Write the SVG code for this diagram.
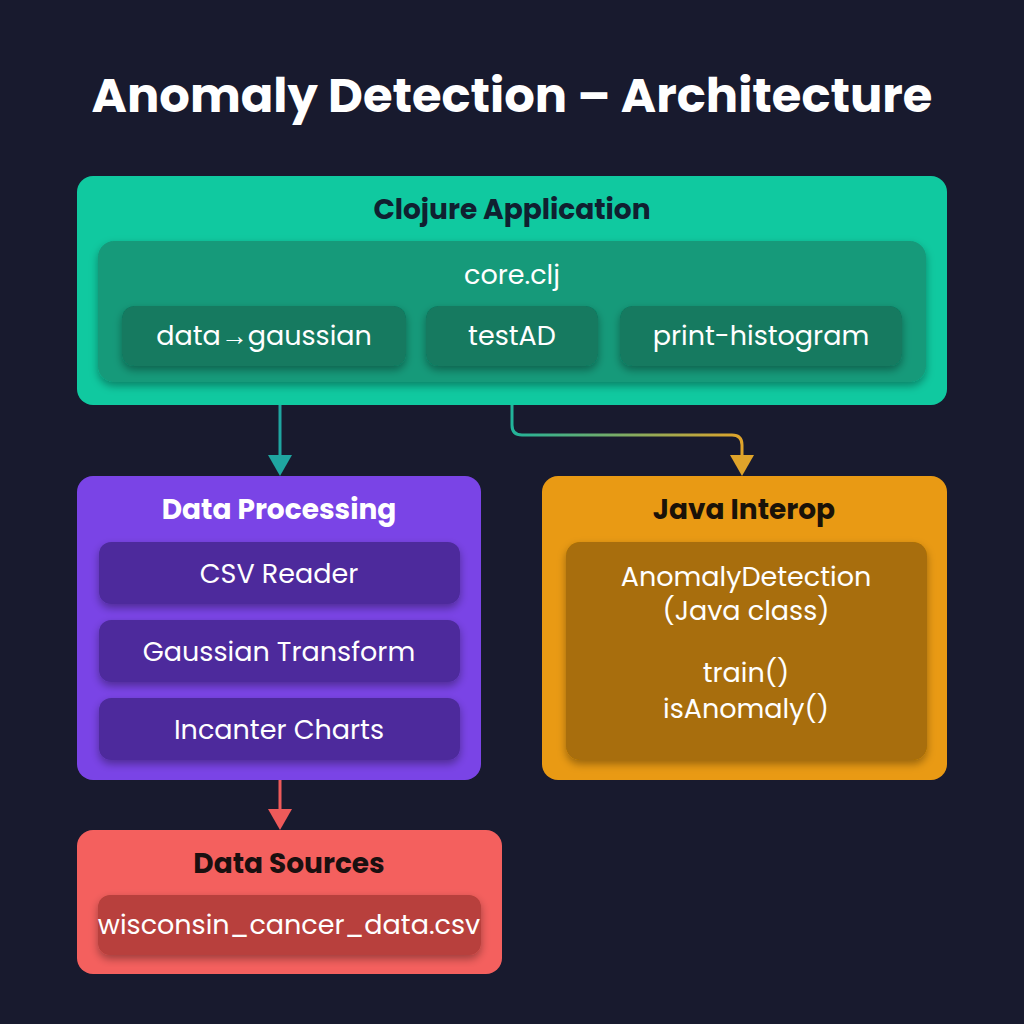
<svg xmlns="http://www.w3.org/2000/svg" width="1024" height="1024" viewBox="0 0 1024 1024">
<defs>
<style>
.t{font-family:Poppins,"Noto Sans","Liberation Sans",sans-serif}
.h{font-weight:700;font-size:28px;text-anchor:middle}
.l{font-size:27px;text-anchor:middle;fill:#fff}
</style>
<linearGradient id="g1" x1="0" y1="0" x2="1" y2="0"><stop offset="0" stop-color="#22b39a"/><stop offset="1" stop-color="#e0a42a"/></linearGradient>
<linearGradient id="g2" x1="0" y1="0" x2="1" y2="0"><stop offset="0" stop-color="#d98a6a"/><stop offset="1" stop-color="#e0a030"/></linearGradient>
<filter id="sh" x="-10%" y="-10%" width="120%" height="130%"><feDropShadow dx="0" dy="4" stdDeviation="4" flood-color="#000" flood-opacity="0.35"/></filter>
</defs>
<rect width="1024" height="1024" fill="#181a2e"/>
<text x="512" y="112" class="t" font-size="48" font-weight="700" fill="#fff" text-anchor="middle">Anomaly Detection – Architecture</text>

<g id="connectors" fill="none" stroke-width="3">
<path d="M280 404 V462" stroke="#1fa5a0"/>
<polygon points="268,455 292,455 280,476" fill="#1fa5a0" stroke="none"/>
<path d="M512 380 V425 Q512 435 522 435 H732 Q742 435 742 445 V462" stroke="url(#g1)"/>
<polygon points="730,455 754,455 742,476" fill="#e0a42a" stroke="none"/>
<path d="M460 651 H552" stroke="url(#g2)"/>
<polygon points="550,642 566,651 550,660" fill="#e0a030" stroke="none"/>
<path d="M280 760 V816" stroke="#ee5a5a"/>
<polygon points="268,809 292,809 280,830" fill="#ee5a5a" stroke="none"/>
</g>

<g id="clojure">
<rect x="77" y="176" width="870" height="229" rx="16" fill="#10c9a0"/>
<text x="512" y="219" class="t h" fill="#102030">Clojure Application</text>
<rect x="98" y="241" width="828" height="141" rx="16" fill="#159a7a" filter="url(#sh)"/>
<text x="512" y="284" class="t l">core.clj</text>
<rect x="122" y="306" width="284" height="60" rx="12" fill="#127a60" filter="url(#sh)"/>
<text x="264" y="345" class="t l">data→gaussian</text>
<rect x="426" y="306" width="172" height="60" rx="12" fill="#127a60" filter="url(#sh)"/>
<text x="512" y="345" class="t l">testAD</text>
<rect x="620" y="306" width="282" height="60" rx="12" fill="#127a60" filter="url(#sh)"/>
<text x="761" y="345" class="t l">print-histogram</text>
</g>

<g id="data-processing">
<rect x="77" y="476" width="404" height="304" rx="16" fill="#7a44e6"/>
<text x="279" y="519" class="t h" fill="#fff">Data Processing</text>
<rect x="99" y="542" width="361" height="62" rx="12" fill="#4e2c9c" filter="url(#sh)"/>
<text x="279" y="583" class="t l">CSV Reader</text>
<rect x="99" y="620" width="361" height="62" rx="12" fill="#4e2c9c" filter="url(#sh)"/>
<text x="279" y="661" class="t l">Gaussian Transform</text>
<rect x="99" y="698" width="361" height="62" rx="12" fill="#4e2c9c" filter="url(#sh)"/>
<text x="279" y="739" class="t l">Incanter Charts</text>
</g>

<g id="java-interop">
<rect x="542" y="476" width="405" height="304" rx="16" fill="#e99a14"/>
<text x="744" y="519" class="t h" fill="#1a1208">Java Interop</text>
<rect x="566" y="542" width="361" height="218" rx="14" fill="#a86e08" filter="url(#sh)"/>
<text x="746" y="586" class="t l">AnomalyDetection</text>
<text x="746" y="620" class="t l">(Java class)</text>
<text x="746" y="682" class="t l">train()</text>
<text x="746" y="718" class="t l">isAnomaly()</text>
</g>

<g id="data-sources">
<rect x="77" y="830" width="425" height="144" rx="16" fill="#f4605e"/>
<text x="289" y="873" class="t h" fill="#1a1010">Data Sources</text>
<rect x="98" y="895" width="383" height="60" rx="12" fill="#b8403c" filter="url(#sh)"/>
<text x="289" y="934" class="t l">wisconsin_cancer_data.csv</text>
</g>
</svg>
